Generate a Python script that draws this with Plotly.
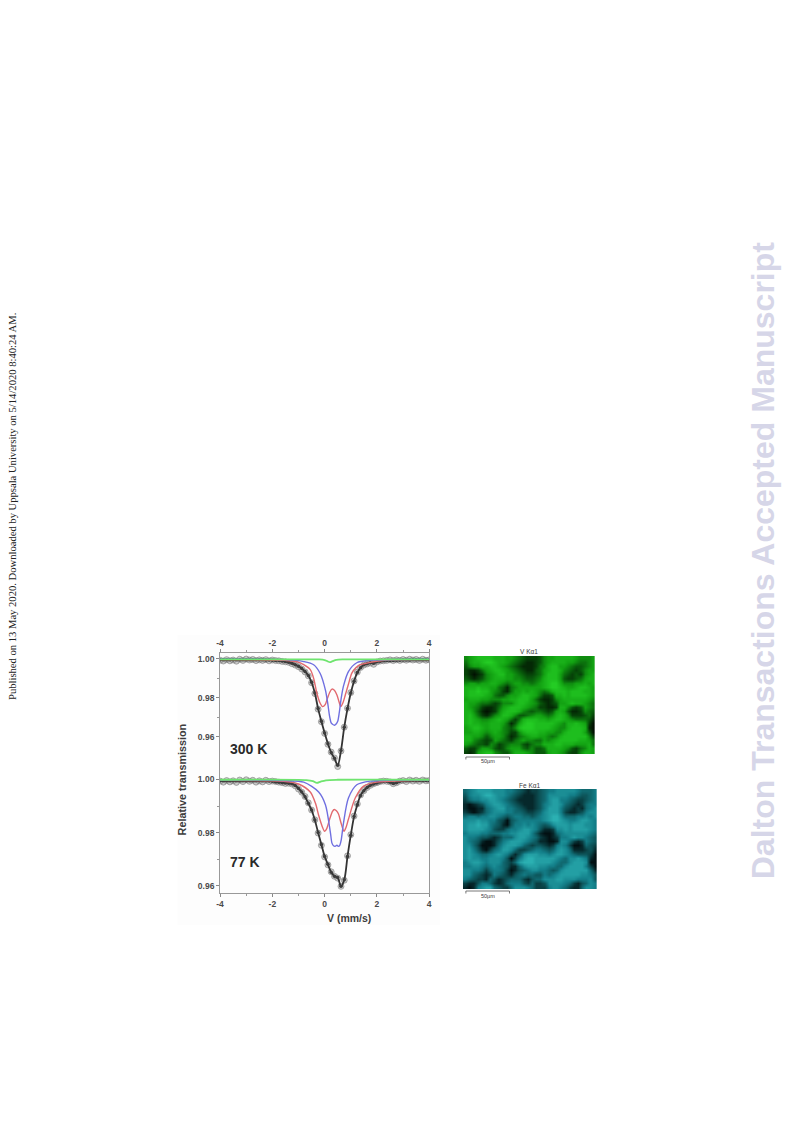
import plotly.graph_objects as go

W, H = 793, 1121

VELOCITY = [-4.0,-3.875,-3.75,-3.625,-3.5,-3.375,-3.25,-3.125,-3.0,-2.875,-2.75,-2.625,-2.5,-2.375,-2.25,-2.125,-2.0,
            -1.875,-1.75,-1.625,-1.5,-1.375,-1.25,-1.125,-1.0,-0.875,-0.75,-0.625,-0.5,-0.375,-0.25,-0.125,0.0,
            0.125,0.25,0.375,0.5,0.625,0.75,0.875,1.0,1.125,1.25,1.375,1.5,1.625,1.75,1.875,2.0,
            2.125,2.25,2.375,2.5,2.625,2.75,2.875,3.0,3.125,3.25,3.375,3.5,3.625,3.75,3.875,4.0]

OBS_300K = [.9993,.9989,.9996,.9990,.9994,.9988,.9998,.9992,.9999,.9994,.9997,.9991,.9995,.9992,.9996,.9990,.9994,
            .9991,.9990,.9987,.9985,.9982,.9975,.9968,.9960,.9948,.9933,.9913,.9878,.9822,.9742,.9678,.9618,
            .9562,.9522,.9492,.9448,.9528,.9650,.9747,.9827,.9887,.9932,.9956,.9968,.9974,.9979,.9972,.9984,
            .9989,.9990,.9992,.9995,.9991,.9995,.9992,.9997,.9993,.9998,.9994,.9997,.9992,.9998,.9993,.9995]
FIT_300K = [.9995,.9995,.9995,.9995,.9995,.9995,.9995,.9995,.9995,.9995,.9995,.9995,.9995,.9995,.9994,.9994,.9993,
            .9992,.9991,.9989,.9986,.9983,.9977,.9970,.9962,.9950,.9935,.9915,.9880,.9825,.9745,.9680,.9620,
            .9565,.9520,.9490,.9455,.9530,.9650,.9745,.9825,.9885,.9930,.9955,.9970,.9975,.9980,.9977,.9985,
            .9988,.9990,.9991,.9992,.9992,.9993,.9993,.9994,.9994,.9994,.9995,.9995,.9995,.9995,.9995,.9995]
RED_300K_X = [-4,-2,-1.5,-1.05,-0.8,-0.55,-0.42,-0.3,-0.18,-0.08,0.02,0.1,0.2,0.28,0.38,0.47,0.55,0.62,0.7,0.79,0.92,1.04,1.2,1.36,1.74,2.3,4]
RED_300K = [.9996,.9994,.9992,.9985,.9970,.9945,.9900,.9825,.9775,.9755,.9765,.9795,.9830,.9845,.9838,.9815,.9780,.9755,.9775,.9815,.9875,.9927,.9955,.9970,.9982,.9993,.9996]
BLUE_300K_X = [-4,-1.5,-0.8,-0.42,-0.17,0.03,0.12,0.19,0.25,0.3,0.38,0.43,0.5,0.56,0.63,0.72,0.91,1.23,1.7,4]
BLUE_300K = [.9998,.9996,.9986,.9970,.9925,.9840,.9770,.9705,.9672,.9665,.9660,.9665,.9680,.9725,.9795,.9860,.9935,.9980,.9992,.9998]
GREEN_300K_X = [-4,-0.5,-0.2,0.0,0.1,0.2,0.3,0.45,0.7,1.0,4]
GREEN_300K = [.9997,.9997,.9997,.9994,.9988,.9983,.9988,.9995,.9997,.9997,.9997]

OBS_77K = [.9994,.9990,.9996,.9991,.9995,.9989,.9998,.9992,.9999,.9993,.9997,.9990,.9995,.9991,.9997,.9992,.9994,
           .9992,.9990,.9988,.9985,.9986,.9983,.9976,.9964,.9952,.9936,.9912,.9885,.9848,.9798,.9752,.9708,
           .9678,.9652,.9635,.9628,.9597,.9620,.9712,.9792,.9862,.9908,.9942,.9958,.9970,.9978,.9984,.9988,
           .9992,.9994,.9993,.9991,.9984,.9988,.9994,.9996,.9992,.9998,.9994,.9997,.9993,.9998,.9995,.9996]
FIT_77K = [.9995,.9995,.9995,.9995,.9995,.9995,.9995,.9995,.9995,.9995,.9995,.9995,.9995,.9995,.9995,.9994,.9993,
           .9991,.9990,.9988,.9987,.9986,.9984,.9977,.9966,.9953,.9935,.9910,.9885,.9847,.9800,.9755,.9710,
           .9680,.9650,.9635,.9630,.9597,.9622,.9710,.9790,.9860,.9905,.9940,.9958,.9970,.9978,.9983,.9987,
           .9991,.9993,.9993,.9990,.9985,.9988,.9993,.9995,.9995,.9996,.9996,.9996,.9996,.9996,.9996,.9996]
RED_77K_X = [-4,-2,-1.3,-1.0,-0.55,-0.35,-0.23,-0.1,0.0,0.08,0.19,0.3,0.37,0.45,0.53,0.63,0.74,0.82,0.91,1.17,1.49,2.0,4]
RED_77K = [.9997,.9995,.9990,.9983,.9953,.9910,.9865,.9825,.9805,.9815,.9850,.9880,.9887,.9882,.9870,.9835,.9805,.9820,.9850,.9930,.9975,.9990,.9997]
BLUE_77K_X = [-4,-1.5,-0.8,-0.23,0.03,0.22,0.28,0.34,0.4,0.47,0.52,0.57,0.63,0.72,0.91,1.23,1.74,4]
BLUE_77K = [.9998,.9996,.9990,.9953,.9905,.9800,.9760,.9750,.9748,.9752,.9748,.9750,.9770,.9835,.9930,.9980,.9994,.9998]
GREEN_77K_X = [-4,-0.7,-0.45,-0.3,-0.15,0.05,0.5,4]
GREEN_77K = [.9999,.9998,.9994,.9987,.9992,.9997,.9999,.9999]

X_TICKS = [-4, -2, 0, 2, 4]
X_TICK_LABELS = ["-4", "-2", "0", "2", "4"]
Y_TICKS = [0.96, 0.98, 1.0]
Y_TICK_LABELS = ["0.96", "0.98", "1.00"]

V_MAP = ["56788887 77665432 22356677 77765556", "46778998 77654321 12356777 76654456",
         "35667788 76543211 12457886 65433456", "21124678 87654321 13467887 54323566",
         "21012567 88665432 23468886 43232567", "32123567 77665543 34578886 32234677",
         "56656677 65456655 45678997 55566767", "77787766 43145666 66678998 76678876",
         "78898865 42146676 76545788 87888776", "78888764 33566788 76422377 87888876",
         "67776655 56677888 64211256 77777765", "76654432 35557887 65321236 67877654",
         "76542112 46788876 54221127 75323654", "77531012 57888754 34432367 63112543",
         "78642135 68875334 56654578 75222342", "78765567 87642478 88776788 76544431",
         "78776677 76413689 98888876 57787620", "67887677 75435899 98888765 57888710",
         "66776567 65422578 88776655 78888630", "77665356 65312456 77665457 88888852",
         "77543236 54324565 54465678 88887764", "65433254 23455532 45577788 77766674",
         "32246653 23566643 53347777 65324576", "21267885 43357776 53336776 53225776"]
FE_MAP = ["45677776 66554321 22345566 66654445", "35667887 66543211 12346666 65543345",
          "24556677 65432111 12346775 54322345", "10123567 76543211 12356776 43212455",
          "10011456 77554321 12357775 32121456", "21012456 66554432 23467775 21123566",
          "45545566 54345544 34567886 44455656", "66676655 32034555 55567887 65567765",
          "67787754 31035565 65434677 76777665", "67777653 22455677 65311266 76777765",
          "56665544 45566777 53100145 66666654", "65543321 24446776 54210125 56766543",
          "65431001 35677765 43110016 64212543", "66420001 46777643 23321256 52001432",
          "67531024 57764223 45543467 64111231", "67654456 76531367 77665677 65433320",
          "67665566 65302578 87777765 46676510", "56776566 64324788 87777654 46777600",
          "55665456 54311467 77665544 67777520", "66554245 54201345 66554346 77777741",
          "66432125 43213454 43354567 77776653", "54322143 12344421 34466677 66655563",
          "21135542 12455532 42236666 54213465", "10156774 32246665 42225665 42114665"]

V_SCALE = [[0, "#021002"], [0.3, "#07520a"], [0.65, "#12a012"], [1, "#24cc24"]]
FE_SCALE = [[0, "#021012"], [0.3, "#0b4a4e"], [0.65, "#14808a"], [1, "#2bb0b2"]]

GREY = "#4a4a4a"
TICK_FONT = dict(family="Liberation Sans", size=8.5, color=GREY, weight="bold")


def fx(p):
    return p / W


def fy(p):
    return 1 - p / H


def grid(rows):
    return [[int(c) for c in r.replace(" ", "")] for r in rows]


fig = go.Figure()


def panel(n, obs, fit, red, green, blue):
    xa, ya = f"x{n}", f"y{n}"
    fig.add_trace(go.Scatter(x=VELOCITY, y=obs, mode="markers", xaxis=xa, yaxis=ya,
                             marker=dict(size=6, color="rgba(140,140,140,0.45)",
                                         line=dict(color="rgba(120,120,120,0.7)", width=0.8))))
    fig.add_trace(go.Scatter(x=VELOCITY, y=fit, mode="lines+markers", xaxis=xa, yaxis=ya,
                             line=dict(color="#333333", width=1.8, shape="spline"),
                             marker=dict(size=3.5, color="#3c3c3c")))
    for (xs, ys), c, w in ((red, "#e2696e", 1.4), (blue, "#6f6fe0", 1.4), (green, "#6fe46f", 1.8)):
        fig.add_trace(go.Scatter(x=xs, y=ys, mode="lines", xaxis=xa, yaxis=ya,
                                 line=dict(color=c, width=w, shape="spline", smoothing=0.8)))


panel("", OBS_300K, FIT_300K, (RED_300K_X, RED_300K), (GREEN_300K_X, GREEN_300K), (BLUE_300K_X, BLUE_300K))
panel("2", OBS_77K, FIT_77K, (RED_77K_X, RED_77K), (GREEN_77K_X, GREEN_77K), (BLUE_77K_X, BLUE_77K))

fig.add_trace(go.Heatmap(z=grid(V_MAP)[::-1], xaxis="x3", yaxis="y3", colorscale=V_SCALE, zmin=0, zmax=9,
                         zsmooth="best", showscale=False))
fig.add_trace(go.Heatmap(z=grid(FE_MAP)[::-1], xaxis="x4", yaxis="y4", colorscale=FE_SCALE, zmin=0, zmax=8,
                         zsmooth="best", showscale=False))

X0, X1 = 218, 429
common_x = dict(range=[-4, 4], tickvals=X_TICKS, ticktext=X_TICK_LABELS, tickfont=TICK_FONT, ticks="outside", ticklen=3,
                tickcolor="#888", showline=True, linecolor="#999999", linewidth=1, mirror=False, showgrid=False,
                zeroline=False, minor=dict(tickvals=[-3, -1, 1, 3], ticks="outside", ticklen=2, tickcolor="#999"),
                domain=[fx(X0), fx(X1)])
common_y = dict(tickfont=TICK_FONT, ticks="outside", ticklen=3, tickcolor="#888", showline=True, linecolor="#999999",
                linewidth=1, mirror=True, showgrid=False, zeroline=False, tickvals=Y_TICKS, ticktext=Y_TICK_LABELS,
                minor=dict(tickvals=[0.97, 0.99], ticks="outside", ticklen=2, tickcolor="#999"))
blank = dict(showticklabels=False, ticks="", showline=False, showgrid=False, zeroline=False)

fig.update_layout(
    width=W, height=H, autosize=False, margin=dict(l=0, r=0, t=0, b=0), showlegend=False,
    paper_bgcolor="white", plot_bgcolor="rgba(0,0,0,0)",
    xaxis=dict(common_x, side="top", anchor="y"),
    yaxis=dict(common_y, range=[0.9415, 1.003], domain=[fy(773), fy(653)], anchor="x"),
    xaxis2=dict(common_x, side="bottom", anchor="y2"),
    yaxis2=dict(common_y, range=[0.9572, 1.00245], domain=[fy(893), fy(773)], anchor="x2"),
    xaxis3=dict(blank, domain=[fx(464), fx(596)], anchor="y3", range=[-0.5, 31.5]),
    yaxis3=dict(blank, domain=[fy(754), fy(656)], anchor="x3", range=[-0.5, 23.5]),
    xaxis4=dict(blank, domain=[fx(463), fx(598)], anchor="y4", range=[-0.5, 31.5]),
    yaxis4=dict(blank, domain=[fy(889), fy(789)], anchor="x4", range=[-0.5, 23.5]),
)


def note(text, x, y, size, color="#3c3c3c", angle=0, bold=True, family="Liberation Sans"):
    fig.add_annotation(text=text, x=fx(x), y=fy(y), xref="paper", yref="paper", showarrow=False,
                       textangle=angle, xanchor="center", yanchor="middle",
                       font=dict(family=family, size=size, color=color, weight="bold" if bold else "normal"))


note("Relative transmission", 180, 779, 10.8, angle=-90)
note("V (mm/s)", 348, 918, 10.5)
note("300 K", 247, 749, 14, color="#2a2a2a")
note("77 K", 243, 862, 14, color="#2a2a2a")
note("V Kα1", 530, 651, 6.5, bold=False)
note("Fe Kα1", 530, 785, 6.5, bold=False)
note("50µm", 488, 761, 5.5, bold=False)
note("50µm", 488, 896, 5.5, bold=False)
note("Published on 13 May 2020. Downloaded by Uppsala University on 5/14/2020 8:40:24 AM.", 9, 506, 10.6,
     color="#222222", angle=-90, bold=False, family="Liberation Serif")
note("Dalton Transactions Accepted Manuscript", 766, 560, 32, color="#d6d6e8", angle=-90)


def rule(x0, y0, x1, y1):
    fig.add_shape(type="line", xref="paper", yref="paper", x0=fx(x0), y0=fy(y0), x1=fx(x1), y1=fy(y1),
                  line=dict(color="#555", width=0.8))


for y in (757, 891):
    rule(466, y, 510, y)
    rule(466, y, 466, y + 2.5)
    rule(510, y, 510, y + 2.5)

fig.add_shape(type="rect", xref="paper", yref="paper", x0=fx(175), x1=fx(440), y0=fy(925), y1=fy(635),
              fillcolor="#fdfdfd", line_width=0, layer="below")

fig.write_html("out.html", config={"displayModeBar": False}, post_script="document.body.style.margin='0';")
